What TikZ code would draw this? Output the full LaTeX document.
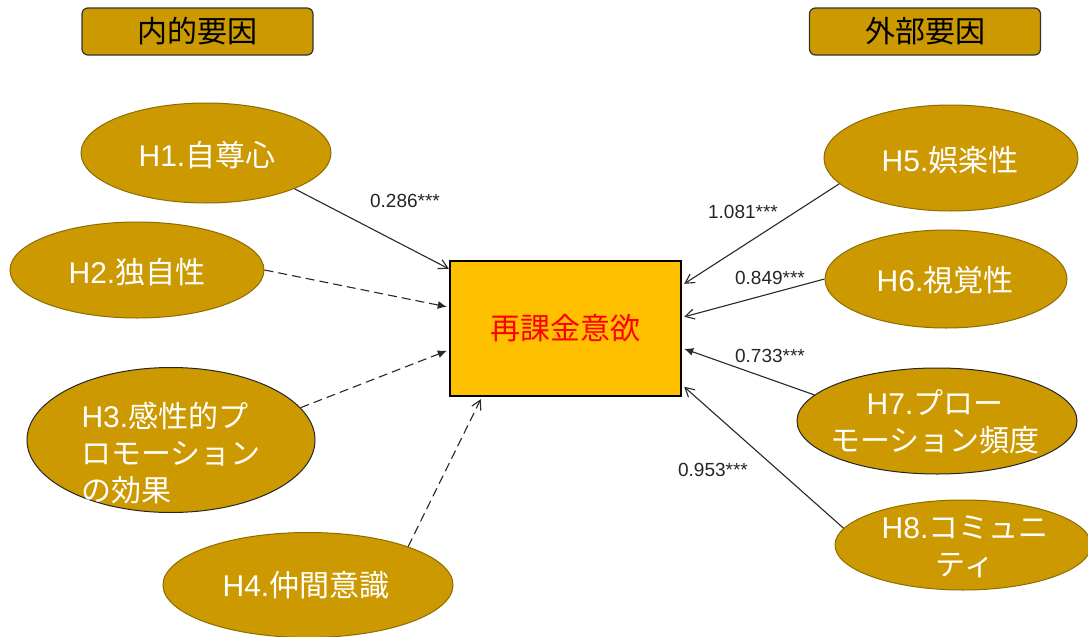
\documentclass[tikz,border=0pt]{standalone}
\usepackage{fontspec}
\setmainfont{Liberation Sans}
\newfontfamily\jp{Noto Sans CJK JP}
\usetikzlibrary{arrows.meta,calc,shapes.geometric}
\definecolor{gold}{RGB}{204,153,0}
\definecolor{goldline}{RGB}{140,109,0}
\definecolor{mainfill}{RGB}{255,192,0}
\definecolor{arrowc}{RGB}{40,40,40}
\tikzset{
  hyp/.style={ellipse,fill=gold,draw=goldline,line width=1pt,inner sep=0pt},
  hyptext/.style={text=white,font=\fontsize{30}{37}\selectfont},
  titlebox/.style={rectangle,rounded corners=6pt,fill=gold,draw=black!80,line width=1.2pt,minimum width=231pt,minimum height=47pt,font=\jp\fontsize{30}{34}\selectfont},
  openarr/.style={draw=arrowc,line width=1.1pt,-{Straight Barb[length=9pt,width=10pt]}},
  fillarr/.style={draw=arrowc,line width=1.1pt,-{Latex[length=9pt,width=8pt]}},
  dashline/.style={dash pattern=on 9pt off 5pt},
  coef/.style={font=\fontsize{19}{22}\selectfont,text=black!85}
}
\newcommand{\jt}[1]{{\jp #1}}
\begin{document}
\begin{tikzpicture}[x=1pt,y=-1pt]
\clip (0,0) rectangle (1088,637);
\useasboundingbox (0,0) rectangle (1088,637);
\fill[white] (0,0) rectangle (1088,637);

% title boxes
\node[titlebox] (tin) at (197.5,31.5) {内的要因};
\node[titlebox] (tout) at (925,31.5) {外部要因};

% main box
\node[rectangle,fill=mainfill,draw=black,line width=2.4pt,minimum width=231pt,minimum height=135pt,text=red,font=\jp\fontsize{30}{34}\selectfont] (main) at (565.5,328.5) {再課金意欲};

% hypothesis ellipses
\node[hyp,minimum width=250pt,minimum height=100pt] (h1) at (206,153) {};
\node[hyptext] (t1) at (207,155) {H1.\jt{自尊心}};
\node[hyp,minimum width=254pt,minimum height=96pt] (h2) at (137,270) {};
\node[hyptext] (t2) at (137,272) {H2.\jt{独自性}};
\node[hyp,minimum width=288pt,minimum height=145pt,draw=black!85] (h3) at (171,440) {};
\node[hyptext,align=left,anchor=west] (t3) at (78,453) {H3.\jt{感性的プ}\\\jt{ロモーション}\\\jt{の効果}};
\node[hyp,minimum width=290pt,minimum height=105pt] (h4) at (308,585) {};
\node[hyptext] (t4) at (306,585) {H4.\jt{仲間意識}};

\node[hyp,minimum width=254pt,minimum height=106pt] (h5) at (951,158) {};
\node[hyptext] (t5) at (950,160) {H5.\jt{娯楽性}};
\node[hyp,minimum width=242pt,minimum height=98pt] (h6) at (946,279) {};
\node[hyptext] (t6) at (945,280) {H6.\jt{視覚性}};
\node[hyp,minimum width=280pt,minimum height=106pt,draw=black!85] (h7) at (937,421) {};
\node[hyptext,align=center] (t7) at (935,422) {H7.\jt{プロー}\\\jt{モーション頻度}};
\node[hyp,minimum width=256pt,minimum height=90pt] (h8) at (963,545) {};
\node[hyptext,align=center] (t8) at (965,547) {H8.\jt{コミュニ}\\\jt{ティ}};

% connectors
\draw[openarr] (h1.-22) -- ($(main.north west)+(0,9)$);
\draw[fillarr,dashline] (h2.east) -- ($(main.north west)+(-2,47)$);
\draw[fillarr,dashline] (h3.14) -- ($(main.north west)+(-2,91)$);
\draw[openarr,dashline] (h4.21) -- ($(main.south west)+(32,2)$);
\draw[openarr] (h5.193) -- ($(main.north east)+(2,24)$);
\draw[openarr] (h6.west) -- ($(main.north east)+(2,57)$);
\draw[fillarr] (h7.168) -- ($(main.north east)+(2,89)$);
\draw[openarr] (h8.172) -- ($(main.north east)+(2,127)$);

% coefficients
\node[coef] (c1) at (405,201) {0.286***};
\node[coef] (c5) at (743,212) {1.081***};
\node[coef] (c6) at (770,278) {0.849***};
\node[coef] (c7) at (770,356) {0.733***};
\node[coef] (c8) at (713,470) {0.953***};
\end{tikzpicture}
\end{document}
